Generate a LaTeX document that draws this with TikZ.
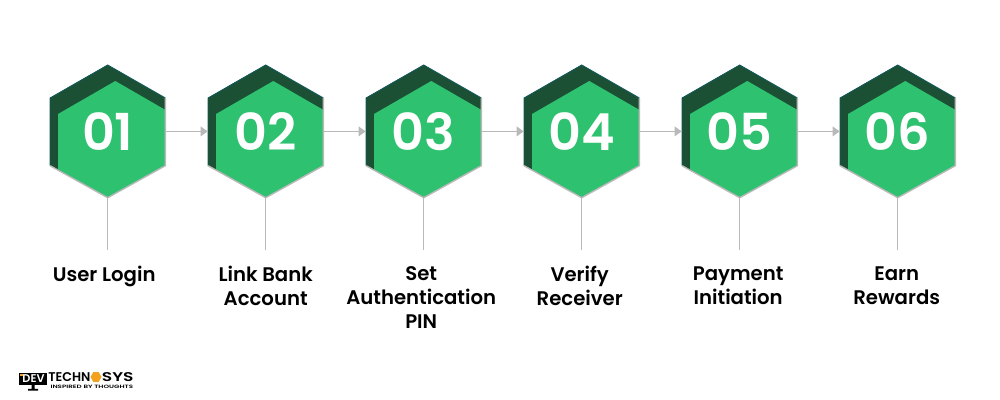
\documentclass[tikz,border=0pt]{standalone}
\usepackage{fontspec}
\usepackage{xcolor}
\usetikzlibrary{shapes.geometric,arrows.meta}
\setmainfont{Poppins}
\newfontfamily\numfont{Poppins SemiBold}
\newfontfamily\labelfont{Poppins SemiBold}
\definecolor{hexdark}{HTML}{1C5035}
\definecolor{hexedge}{HTML}{12585A}
\definecolor{hexgreen}{HTML}{2EC16F}
\definecolor{linegray}{HTML}{B9B9B9}
\definecolor{logoorange}{HTML}{F2A21E}
\tikzset{
	hexnum/.style={minimum width=2.306cm,minimum height=2.654cm,inner sep=0,text=white,font=\numfont\fontsize{29}{29}\selectfont},
	steplabel/.style={anchor=north,align=center,inner sep=0,font=\labelfont\fontsize{11.2}{13.66}\selectfont,execute at begin node={\rule{0pt}{8.54pt}}},
	logotext/.style={anchor=west,inner sep=0,font=\numfont\fontsize{7.2}{7.2}\selectfont},
	flowline/.style={linegray,line width=0.8pt},
	flowarrow/.style={flowline,-{Triangle[length=0.14cm,width=0.19cm]}}
}
\begin{document}
\begin{tikzpicture}
	\useasboundingbox (0,0) rectangle (20,8);
	\fill[white] (0,0) rectangle (20,8);
	%六边形
	\foreach \i/\num/\dx/\txt in {1/01/-0.07/User Login,2/02/0/Link Bank\\Account,3/03/-0.05/Set\\Authentication\\PIN,4/04/-0.04/Verify\\Receiver,5/05/-0.03/Payment\\Initiation,6/06/-0.02/Earn\\Rewards}{
		\pgfmathsetmacro{\cx}{2.154+3.16*(\i-1)}
		\begin{scope}[shift={(\cx,5.372)}]
			\fill[hexdark] (0,1.328) -- (1.153,0.668) -- (1.153,-0.686) -- (0,-1.326) -- (-1.153,-0.686) -- (-1.153,0.668) -- cycle;
			\draw[hexedge,line width=0.5pt] (-1.153,-0.686) -- (-1.153,0.668) -- (0,1.328) -- (1.153,0.668);
			\fill[hexgreen] (0.152,1.008) -- (1.153,0.43) -- (1.153,-0.686) -- (0,-1.326) -- (-0.994,-0.76) -- (-0.994,0.348) -- cycle;
			\draw[flowline] (-1.153,-0.686) -- (0,-1.326) -- (1.153,-0.686) -- (1.153,0.668);
		\end{scope}
		\node[hexnum] (hex-\i) at (\cx,5.372) {\num};
		\coordinate (stem-\i) at (\cx,3);
		\node[steplabel] (label-\i) at (\cx+\dx,2.68) {\txt};
		\draw[flowline] (hex-\i.south) -- (stem-\i);
	}
	%箭头
	\foreach \i/\j in {1/2,2/3,3/4,4/5,5/6}{
		\draw[flowarrow] (hex-\i.east) -- (hex-\j.west);
	}
	%标志
	\fill[black] (0.38,0.3) rectangle (0.94,0.54);
	\fill[logoorange] (0.4,0.47) rectangle (0.46,0.52);
	\node[text=white,inner sep=0,font=\numfont\fontsize{6.4}{6.4}\selectfont] (logo-dev) at (0.67,0.42) {DEV};
	\fill[black] (0.56,0.185) rectangle (0.76,0.22) (0.63,0.22) rectangle (0.69,0.3);
	\node[logotext] (logo-tech) at (0.96,0.46) {TECHN};
	\node[regular polygon,regular polygon sides=6,fill=logoorange,inner sep=0,minimum size=0.22cm] (logo-hex) at (1.92,0.46) {};
	\node[logotext,xscale=1.35,transform shape] (logo-sys) at (2.03,0.46) {SYS};
	\node[anchor=west,inner sep=0,xscale=1.5,transform shape,font=\numfont\fontsize{2.7}{2.7}\selectfont] (logo-tag) at (1,0.27) {INSPIRED BY THOUGHTS};
\end{tikzpicture}
\end{document}
